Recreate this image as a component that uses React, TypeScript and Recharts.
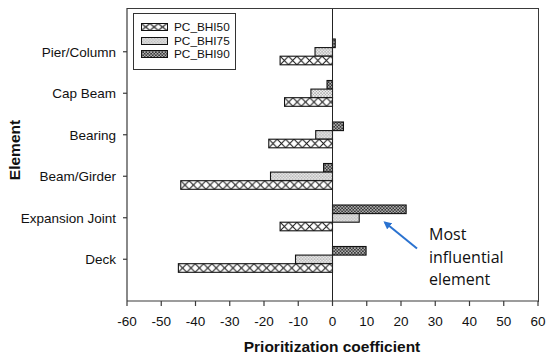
import React from 'react';
import { BarChart, Bar, XAxis, YAxis, ReferenceLine } from 'recharts';

const categories = ['Pier/Column', 'Cap Beam', 'Bearing', 'Beam/Girder', 'Expansion Joint', 'Deck'];
const bhi50 = [-15.3, -14.0, -18.6, -44.3, -15.3, -45.0];
const bhi75 = [-5.1, -6.3, -4.9, -18.1, 7.8, -10.8];
const bhi90 = [0.8, -1.6, 3.2, -2.6, 21.5, 9.8];
const xTicks = [-60, -50, -40, -30, -20, -10, 0, 10, 20, 30, 40, 50, 60];
const seriesNames = ['PC_BHI50', 'PC_BHI75', 'PC_BHI90'];

const data = categories.map((name, i) => ({ name, bhi50: bhi50[i], bhi75: bhi75[i], bhi90: bhi90[i] }));

const AXIS = '#3a3a3a';
const FONT = '"Liberation Sans", Arial, sans-serif';

function patternFor(kind: string, id: string, x: number, y: number, h: number) {
  if (kind === 'p50') {
    const pw = 8.4;
    return (
      <pattern id={id} patternUnits="userSpaceOnUse" x={x} y={y} width={pw} height={h}>
        <rect x={0} y={0} width={pw} height={h} fill="#fff" />
        <line x1={0} y1={0} x2={pw} y2={h} stroke="#111" strokeWidth={1} />
        <line x1={pw} y1={0} x2={0} y2={h} stroke="#111" strokeWidth={1} />
      </pattern>
    );
  }
  if (kind === 'p75') {
    return (
      <pattern id={id} patternUnits="userSpaceOnUse" x={x} y={y} width={3} height={3}>
        <rect x={0} y={0} width={3} height={3} fill="#f0f0f0" />
        <rect x={0.5} y={0.5} width={1.1} height={1.1} fill="#555" />
        <rect x={2} y={2} width={0.9} height={0.9} fill="#888" />
      </pattern>
    );
  }
  return (
    <pattern id={id} patternUnits="userSpaceOnUse" x={x} y={y} width={3.2} height={3.2}>
      <rect x={0} y={0} width={3.2} height={3.2} fill="#dcdcdc" />
      <line x1={0} y1={0} x2={3.2} y2={3.2} stroke="#333" strokeWidth={0.85} />
      <line x1={3.2} y1={0} x2={0} y2={3.2} stroke="#333" strokeWidth={0.85} />
    </pattern>
  );
}

const makeShape = (kind: string) => (props: any) => {
  const { x, y, width, height, index } = props;
  if (x == null || width == null || !isFinite(width)) return <g />;
  const x0 = width < 0 ? x + width : x;
  const w = Math.abs(width);
  const y0 = height < 0 ? y + height : y;
  const h = Math.abs(height);
  const id = `${kind}-bar-${index}`;
  return (
    <g>
      <defs>{patternFor(kind, id, x0, y0, h)}</defs>
      <rect x={x0} y={y0} width={w} height={h} fill={`url(#${id})`} stroke="#111" strokeWidth={1.1} />
    </g>
  );
};

const Swatch = ({ kind }: { kind: string }) => {
  const id = `${kind}-legend`;
  return (
    <svg width={27} height={8} style={{ display: 'block' }}>
      <defs>{patternFor(kind, id, 0.5, 0.5, 7)}</defs>
      <rect x={0.5} y={0.5} width={26} height={7} fill={`url(#${id})`} stroke="#111" strokeWidth={1} />
    </svg>
  );
};

export default function App() {
  const kinds = ['p50', 'p75', 'p90'];
  const legendY = [27.3, 40.8, 54.3];
  return (
    <div style={{ position: 'absolute', left: 0, top: 0, width: 550, height: 362, background: '#fff' }}>
      <BarChart
        width={550}
        height={362}
        data={data}
        layout="vertical"
        margin={{ top: 8, right: 12, bottom: 0, left: 0 }}
        barGap={0}
        barSize={8.6}
      >
        <XAxis
          type="number"
          domain={[-60, 60]}
          ticks={xTicks}
          interval={0}
          height={61}
          tickSize={5}
          tickMargin={10}
          stroke={AXIS}
          axisLine={{ stroke: AXIS, strokeWidth: 1.2 }}
          tickLine={{ stroke: AXIS, strokeWidth: 1.2 }}
          tick={{ fontSize: 13.5, fill: '#111', fontFamily: FONT }}
          allowDataOverflow
        />
        <YAxis
          type="category"
          dataKey="name"
          width={127}
          tickSize={4}
          tickMargin={7}
          interval={0}
          padding={{ top: 23, bottom: 21 }}
          axisLine={{ stroke: AXIS, strokeWidth: 1.2 }}
          tickLine={{ stroke: AXIS, strokeWidth: 1.2 }}
          tick={{ fontSize: 13.5, fill: '#111', fontFamily: FONT }}
        />
        <Bar dataKey="bhi90" name={seriesNames[2]} shape={makeShape('p90')} isAnimationActive={false} />
        <Bar dataKey="bhi75" name={seriesNames[1]} shape={makeShape('p75')} isAnimationActive={false} />
        <Bar dataKey="bhi50" name={seriesNames[0]} shape={makeShape('p50')} isAnimationActive={false} />
        <ReferenceLine x={0} stroke="#222" strokeWidth={1} />
      </BarChart>

      {/* frame top/right */}
      <div
        style={{
          position: 'absolute',
          left: 127,
          top: 7.5,
          width: 411.5,
          height: 294,
          boxSizing: 'border-box',
          borderTop: `1.2px solid ${AXIS}`,
          borderRight: `1.2px solid ${AXIS}`,
          pointerEvents: 'none',
        }}
      />

      {/* legend */}
      <div
        style={{
          position: 'absolute',
          left: 133,
          top: 13,
          width: 103,
          height: 57,
          boxSizing: 'border-box',
          border: '1px solid #333',
          background: '#fff',
        }}
      />
      {kinds.map((k, i) => (
        <React.Fragment key={k}>
          <div style={{ position: 'absolute', left: 140.5, top: legendY[i] - 4 }}>
            <Swatch kind={k} />
          </div>
          <div
            style={{
              position: 'absolute',
              left: 174,
              top: legendY[i] - 8,
              height: 16,
              lineHeight: '16px',
              fontSize: 11.8,
              fontFamily: FONT,
              color: '#111',
              whiteSpace: 'nowrap',
            }}
          >
            {seriesNames[i]}
          </div>
        </React.Fragment>
      ))}

      {/* axis titles */}
      <div
        style={{
          position: 'absolute',
          left: 232,
          top: 337,
          width: 200,
          height: 20,
          lineHeight: '20px',
          textAlign: 'center',
          fontSize: 15.5,
          fontWeight: 'bold',
          fontFamily: FONT,
          color: '#111',
          whiteSpace: 'nowrap',
        }}
      >
        Prioritization coefficient
      </div>
      <div
        style={{
          position: 'absolute',
          left: 15 - 50,
          top: 150 - 10,
          width: 100,
          height: 20,
          lineHeight: '20px',
          textAlign: 'center',
          fontSize: 15.5,
          fontWeight: 'bold',
          fontFamily: FONT,
          color: '#111',
          transform: 'rotate(-90deg)',
          whiteSpace: 'nowrap',
        }}
      >
        Element
      </div>

      {/* annotation */}
      <svg width={550} height={362} style={{ position: 'absolute', left: 0, top: 0, pointerEvents: 'none' }}>
        <defs>
          <marker id="arrowHead" markerWidth={8} markerHeight={8} refX={6} refY={4} orient="auto" markerUnits="userSpaceOnUse">
            <path d="M0,0 L8,4 L0,8 Z" fill="#2a72d0" />
          </marker>
        </defs>
        <line x1={417} y1={248.5} x2={385} y2={222.5} stroke="#2a72d0" strokeWidth={2} markerEnd="url(#arrowHead)" />
      </svg>
      {['Most', 'influential', 'element'].map((t, i) => (
        <div
          key={t}
          style={{
            position: 'absolute',
            left: 429,
            top: 234.3 + i * 22.3 - 11,
            height: 22,
            lineHeight: '22px',
            fontSize: 16,
            fontFamily: '"Open Sans", sans-serif',
            color: '#111',
            whiteSpace: 'nowrap',
          }}
        >
          {t}
        </div>
      ))}
    </div>
  );
}
